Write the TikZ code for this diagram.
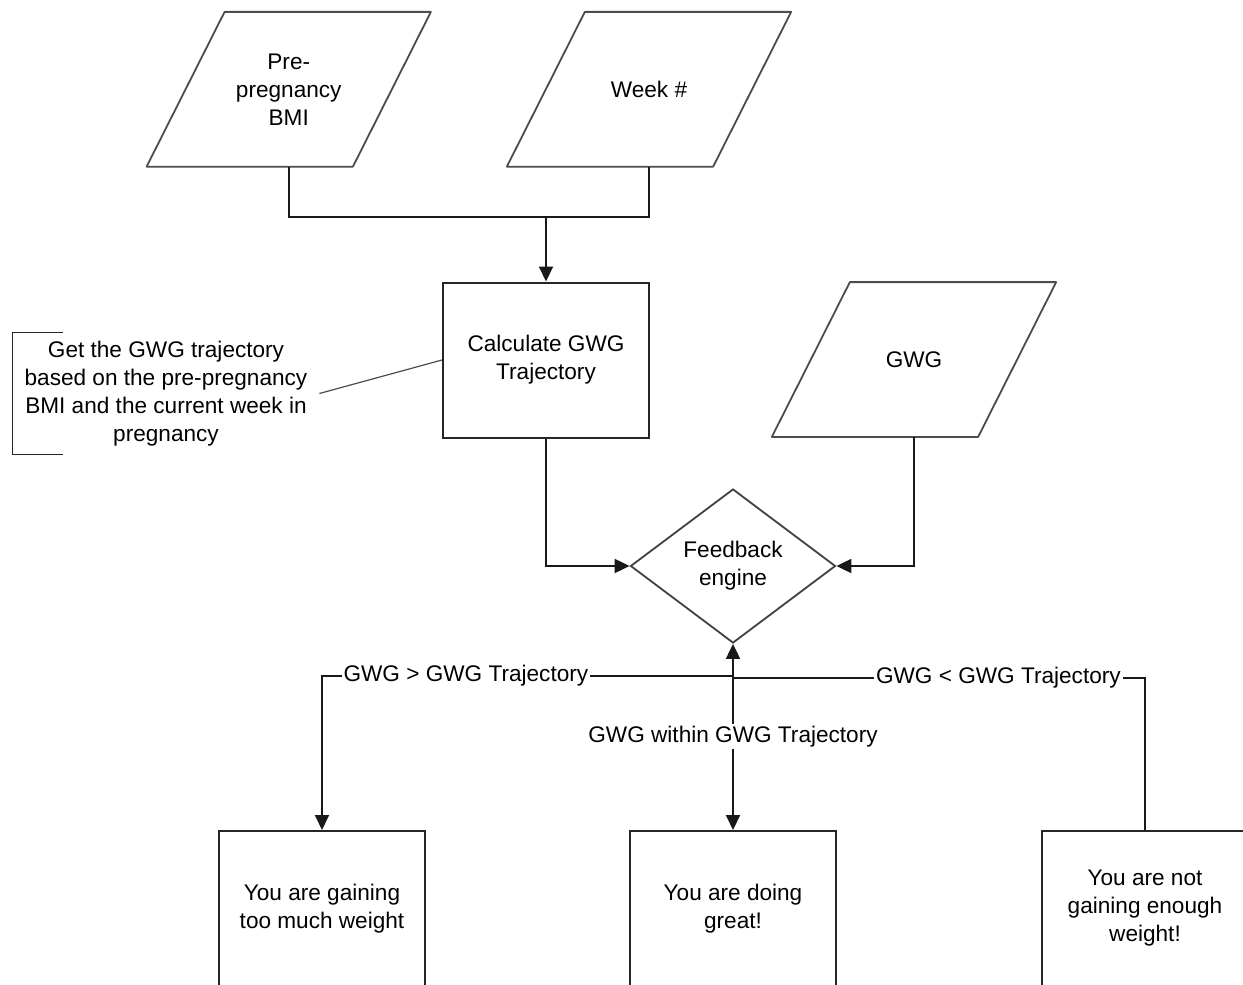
\documentclass[tikz,border=0pt]{standalone}
\usepackage{fontspec}
\setmainfont{Liberation Sans}
\usetikzlibrary{shapes.geometric,arrows.meta}
% slanted outline for an input node: the body is the node's box, the
% bottom edge is pushed left and the top edge right by half the slant
\newcommand\slantedoutline[1]{%
  \draw[inputline] ([xshift=-19.5pt]#1.south west) -- ([xshift=19.5pt]#1.north west)
    -- ([xshift=19.5pt]#1.north east) -- ([xshift=-19.5pt]#1.south east) -- cycle;}
\begin{document}
\begin{tikzpicture}[x=0.5pt,y=-0.5pt,
  every node/.style={font=\fontsize{11.3}{14}\selectfont, align=center},
  datain/.style={rectangle, minimum width=102.75pt, minimum height=77pt, inner sep=0pt},
  inputline/.style={draw=black!70, line width=0.9pt, line join=round},
  procbox/.style={rectangle, draw=black!85, line width=1pt,
    minimum width=103pt, minimum height=77.5pt, inner sep=0pt},
  decision/.style={diamond, aspect=1.33, draw=black!75, line width=0.9pt,
    minimum width=102.5pt, minimum height=77pt, inner sep=0pt},
  notebox/.style={rectangle, minimum width=153pt, minimum height=60.5pt, inner sep=0pt},
  flow/.style={draw=black!90, line width=1pt},
  flowarrow/.style={flow, -{Triangle[length=7.5pt,width=7pt]}},
  bothways/.style={flow, {Triangle[length=7.5pt,width=7pt]}-{Triangle[length=7.5pt,width=7pt]}},
  bracketline/.style={draw=black!85, line width=0.8pt},
  noteline/.style={draw=black!70, line width=0.6pt},
  branchlabel/.style={fill=white, inner sep=1pt}
]
\useasboundingbox (0,0) rectangle (1243,985);

% inputs
\node[datain] (bmi)  at (288.75,89.25) {Pre-\\pregnancy\\BMI};
\node[datain] (week) at (649,89.25)    {Week \#};
\node[datain] (gwg)  at (914,359.5)    {GWG};
\slantedoutline{bmi}
\slantedoutline{week}
\slantedoutline{gwg}

% processing
\node[procbox] (calc) at (546,360) {Calculate GWG\\Trajectory};
\node[decision] (fb) at (733,566) {Feedback\\engine};

% outcomes
\node[procbox] (tmw)   at (322,908.5)  {You are gaining\\too much weight};
\node[procbox] (great) at (733,908.5)  {You are doing\\great!};
\node[procbox] (few)   at (1145,908.5) {You are not\\gaining enough\\weight!};

% annotation
\node[notebox] (note) at (166,393.5)
  {Get the GWG trajectory\\based on the pre-pregnancy\\BMI and the current week in\\pregnancy};
\draw[bracketline] ([xshift=25pt]note.north west) -- (note.north west)
  -- (note.south west) -- ([xshift=25pt]note.south west);
\draw[noteline] (note.east) -- (calc.west);

% inputs into the trajectory calculation
\coordinate (join) at (546,217);
\draw[flow] (bmi.south) |- (join) -| (week.south);
\draw[flowarrow] (join) -- (calc.north);

% into the feedback engine
\draw[flowarrow] (calc.south) |- (fb.west);
\draw[flowarrow] (gwg.south) |- (fb.east);

% branches
\coordinate (splitL) at (733,676);
\coordinate (splitR) at (733,678);
\draw[flowarrow] (splitL) -| node[pos=0.325, branchlabel] {GWG > GWG Trajectory} (tmw.north);
\draw[flow] (few.north) |- node[pos=0.678, branchlabel] {GWG < GWG Trajectory} (splitR);
\draw[bothways] (great.north) -- node[pos=0.5, branchlabel] {GWG within GWG Trajectory} (fb.south);
\end{tikzpicture}
\end{document}
